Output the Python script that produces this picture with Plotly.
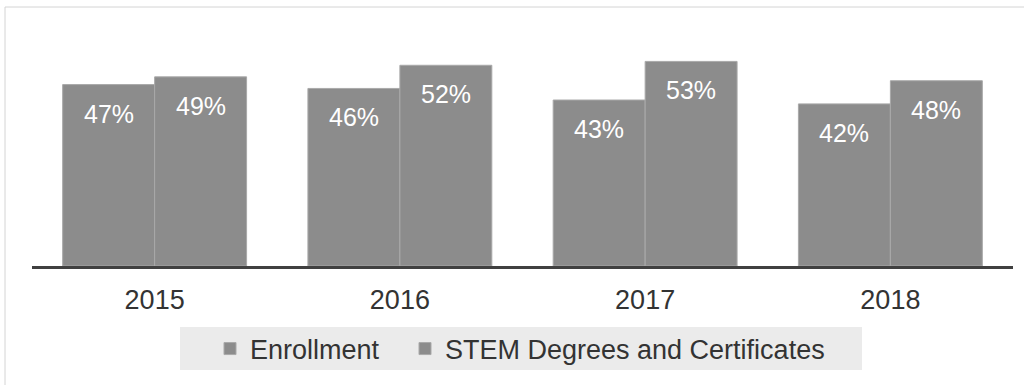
import plotly.graph_objects as go

# Data
years = ["2015", "2016", "2017", "2018"]
enrollment = [47, 46, 43, 42]
stem_degrees = [49, 52, 53, 48]
series_names = ["Enrollment", "STEM Degrees and Certificates"]

BAR_COLOR = "#8c8c8c"
TEXT_DARK = "#333333"
FONT = "Liberation Sans, Arial, sans-serif"

# Plot area geometry (pixels)
W, H = 1024, 385
L, R, T, B = 32, 11, 12, 119
plot_w = W - L - R
plot_h = H - T - B


def px_x(p):
    return (p - L) / plot_w


def px_y(p):
    return (H - B - p) / plot_h


fig = go.Figure()
for name, vals, lg in zip(series_names, [enrollment, stem_degrees],
                          ["legend", "legend2"]):
    fig.add_trace(go.Bar(
        x=years, y=vals, name=name, legend=lg,
        marker=dict(color=BAR_COLOR, line=dict(color="#a9a9a9", width=1)),
        hoverinfo="skip",
    ))

# Value labels placed just inside the top of each bar
half = 0.75 / 4
for i, (a, b) in enumerate(zip(enrollment, stem_degrees)):
    for off, v in ((-half, a), (half, b)):
        fig.add_annotation(
            x=i + off, y=v, xref="x", yref="y",
            text=f"{v}%", showarrow=False, yanchor="middle", yshift=-29,
            font=dict(family=FONT, size=25, color="white"),
        )

shapes = [
    # light outer frame
    dict(type="rect", xref="paper", yref="paper",
         x0=px_x(5), x1=px_x(1030), y0=px_y(395), y1=px_y(7),
         line=dict(color="#d4d4d4", width=1), fillcolor="rgba(0,0,0,0)",
         layer="below"),
    # legend band
    dict(type="rect", xref="paper", yref="paper",
         x0=px_x(180), x1=px_x(862), y0=px_y(370), y1=px_y(327),
         line=dict(width=0), fillcolor="#ebebeb", layer="below"),
]

legend_common = dict(
    orientation="h", xanchor="left", y=px_y(349), yanchor="middle",
    bgcolor="rgba(0,0,0,0)", font=dict(family=FONT, size=27, color=TEXT_DARK),
    itemclick=False, itemdoubleclick=False,
)

fig.update_layout(
    width=W, height=H,
    margin=dict(l=L, r=R, t=T, b=B, pad=0),
    paper_bgcolor="white", plot_bgcolor="white",
    barmode="group", bargap=0.25, bargroupgap=0,
    font=dict(family=FONT, color=TEXT_DARK),
    showlegend=True,
    legend=dict(x=px_x(210), **legend_common),
    legend2=dict(x=px_x(405), **legend_common),
    shapes=shapes,
    xaxis=dict(
        type="category", showline=True, linecolor="#404040", linewidth=2.5,
        showgrid=False, zeroline=False, ticks="",
        tickfont=dict(family=FONT, size=27, color=TEXT_DARK),
        ticklabelstandoff=8,
    ),
    yaxis=dict(range=[0, plot_h / 3.86], visible=False, showgrid=False,
               zeroline=False),
)

fig.write_html("out.html")
